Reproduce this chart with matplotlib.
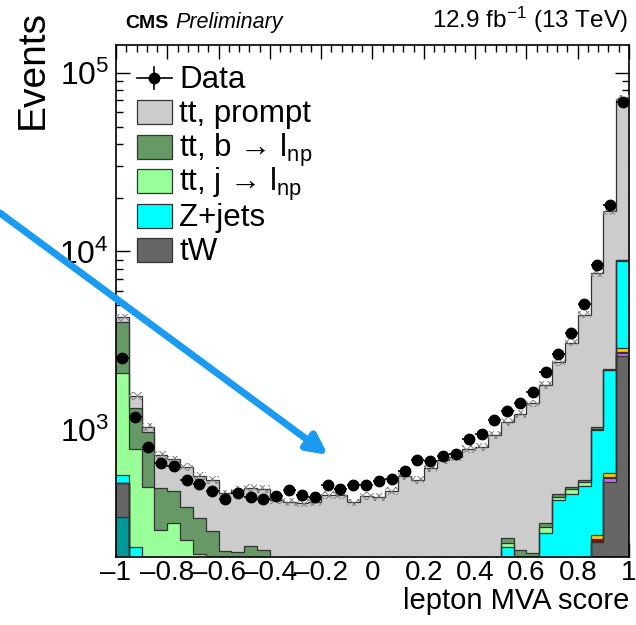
import numpy as np
import matplotlib
matplotlib.use("Agg")
import matplotlib.pyplot as plt
from matplotlib.patches import Rectangle
from matplotlib.ticker import FixedLocator, LogLocator, NullFormatter, MultipleLocator

plt.rcParams['font.family'] = ['Liberation Sans', 'DejaVu Sans']
plt.rcParams['mathtext.fontset'] = 'custom'
plt.rcParams['mathtext.rm'] = 'Liberation Sans'
plt.rcParams['mathtext.it'] = 'Liberation Sans:italic'
plt.rcParams['mathtext.bf'] = 'Liberation Sans:bold'
plt.rcParams['hatch.linewidth'] = 0.7

# 40 bins in lepton MVA score from -1 to 1
edges = np.linspace(-1, 1, 41)

# stacked backgrounds, bottom to top
other_teal = [324] + [0] * 39
tW = [179, 30, 20, 10, 10, 10, 8, 6, 5, 5, 5, 5] + [5] * 18 + \
     [20, 20, 25, 30, 35, 45, 60, 237, 513, 2598]
other_purple = [0] * 38 + [23, 113]
other_red = [0] * 37 + [8, 11, 34]
other_yellow = [0] * 37 + [14, 25, 124]
zjets = [57, 190, 60, 30, 20, 20, 17, 14, 10, 10, 10, 10] + [5] * 10 + \
        [10, 15, 20, 30, 40, 50, 70, 90] + \
        [200, 150, 140, 236, 370, 393, 426, 741, 1596, 6013]
tt_j = [1534, 563, 401, 235, 270, 212, 177, 130, 100, 90, 90, 80,
        60, 50, 45, 40, 35, 30, 30, 30, 30, 30,
        35, 40, 45, 50, 55, 60, 55, 45,
        14, 20, 20, 21, 18, 27, 23, 13, 5, 30]
tt_b = [1951, 540, 497, 196, 157, 130, 118, 122, 95, 103, 119, 117,
        80, 70, 60, 50, 45, 40, 35, 35, 35, 40,
        45, 50, 55, 60, 65, 65, 55, 45,
        15, 23, 19, 13, 15, 13, 16, 22, 15, 51]
tt_prompt = [234, 227, 65, 253, 228, 251, 235, 253, 232, 253, 251, 256,
             255, 267, 275, 297, 342, 350, 318, 352, 346, 378,
             458, 415, 485, 532, 544, 603, 621, 753,
             864, 1016, 1207, 1487, 1975, 2614, 3911, 6514, 14672, 62277]

data = [2522, 1178, 806, 651, 631, 525, 500, 456, 414, 444,
        420, 410, 427, 465, 436, 423, 491, 467, 490, 490,
        519, 536, 587, 679, 670, 713, 731, 887, 950, 1138,
        1278, 1411, 1639, 2121, 2656, 3481, 5060, 8403, 18220, 68170]

xtick_labels = ['\u20131', '\u20130.8', '\u20130.6', '\u20130.4', '\u20130.2',
                '0', '0.2', '0.4', '0.6', '0.8', '1']

mc_unc = 0.05  # relative MC uncertainty (hatched band)

stack = [
    (other_teal, '#009999', None),
    (tW, '#666666', 'tW'),
    (other_purple, '#cc66ff', None),
    (other_red, '#990000', None),
    (other_yellow, '#ffcc00', None),
    (zjets, '#00ffff', 'Z+jets'),
    (tt_j, '#99ff99', 'tt, j \u2192 l$_{\\mathrm{np}}$'),
    (tt_b, '#669966', 'tt, b \u2192 l$_{\\mathrm{np}}$'),
    (tt_prompt, '#cccccc', 'tt, prompt'),
]

W, H = 636, 625
fig = plt.figure(figsize=(W / 100, H / 100), dpi=100)
ax = fig.add_axes([116 / W, 68 / H, 513 / W, 512 / H])

bottom = np.full(40, 1.0)
for vals, col, lab in stack:
    top = bottom + np.array(vals, dtype=float)
    ax.stairs(top, edges, baseline=bottom, fill=True, facecolor=col,
              edgecolor='none', zorder=2)
    ax.stairs(top, edges, baseline=None, color='#333333', lw=0.9, zorder=3)
    bottom = top

total = bottom
ax.bar(edges[:-1], 2 * mc_unc * total, bottom=total * (1 - mc_unc),
       width=0.05, align='edge', fill=False, hatch='xxxx',
       edgecolor='#808080', linewidth=0, zorder=4)

centers = 0.5 * (edges[:-1] + edges[1:])
data = np.array(data, dtype=float)
ax.errorbar(centers, data, xerr=0.025, yerr=np.sqrt(data), fmt='o',
            color='black', ms=7.5, elinewidth=1.2, capsize=0, zorder=5)

ax.set_yscale('log')
ax.set_xlim(-1, 1)
ax.set_ylim(195, 1.43e5)

ax.xaxis.set_major_locator(FixedLocator(np.arange(-1, 1.01, 0.2)))
ax.xaxis.set_minor_locator(MultipleLocator(0.04))
ax.set_xticklabels(xtick_labels)
ax.yaxis.set_major_locator(LogLocator(base=10, numticks=10))
ax.yaxis.set_minor_locator(LogLocator(base=10, subs=np.arange(2, 10), numticks=20))
ax.yaxis.set_minor_formatter(NullFormatter())

ax.tick_params(which='both', direction='in', top=True, right=True, width=1)
ax.tick_params(which='major', length=10)
ax.tick_params(which='minor', length=5)
ax.tick_params(axis='x', which='major', labelsize=20, pad=2.5)
ax.tick_params(axis='y', which='major', labelsize=23, pad=5)
for s in ax.spines.values():
    s.set_linewidth(1.2)

ax.set_xlabel('lepton MVA score', fontsize=21, loc='right', labelpad=0.5)
ax.set_ylabel('Events', fontsize=28, loc='top')
ax.yaxis.set_label_coords(-0.128, 1.068)


# legend drawn entry by entry, ROOT style
def ax_x(px):
    return (px - 116) / 513


def ax_y(py):
    return (557 - py) / 512


entries = [(lab, col) for vals, col, lab in stack[::-1] if lab is not None]
row_y = [78 + 34.4 * i for i in range(len(entries) + 1)]
ax.plot([ax_x(137), ax_x(172)], [ax_y(row_y[0])] * 2, color='black', lw=1.2,
        transform=ax.transAxes, clip_on=False, zorder=6)
ax.plot([ax_x(154)] * 2, [ax_y(row_y[0] - 11), ax_y(row_y[0] + 11)],
        color='black', lw=1.2, transform=ax.transAxes, clip_on=False, zorder=6)
ax.plot(ax_x(154), ax_y(row_y[0]), 'o', color='black', ms=7.5,
        transform=ax.transAxes, clip_on=False, zorder=6)
ax.text(ax_x(179), ax_y(row_y[0] + 10), 'Data', fontsize=22.5,
        transform=ax.transAxes, va='baseline', zorder=6)
for (lab, col), yc in zip(entries, row_y[1:]):
    ax.add_patch(Rectangle((ax_x(137), ax_y(yc + 12)), 35 / 513, 24 / 512,
                           facecolor=col, edgecolor='#333333', lw=0.9,
                           transform=ax.transAxes, zorder=6))
    ax.text(ax_x(179), ax_y(yc + 10), lab, fontsize=22.5,
            transform=ax.transAxes, va='baseline', zorder=6)

fig.text(125 / W, 1 - 28 / H, 'CMS', fontsize=14, fontweight='bold')
fig.text(175 / W, 1 - 28 / H, 'Preliminary', fontsize=15.5, style='italic')
fig.text(628 / W, 1 - 28 / H, r'12.9 fb$^{-1}$ (13 TeV)', fontsize=17.5,
         ha='right')

# blue annotation arrow on top of the figure
ax.annotate('', xy=(328 / W, 1 - 455 / H), xytext=(0, 1 - 213 / H),
            xycoords='figure fraction', textcoords='figure fraction',
            arrowprops=dict(arrowstyle='-|>', lw=5, color='#1a9af0',
                            mutation_scale=30, shrinkA=0, shrinkB=0),
            annotation_clip=False, zorder=10)

fig.savefig('out.png', dpi=100)
